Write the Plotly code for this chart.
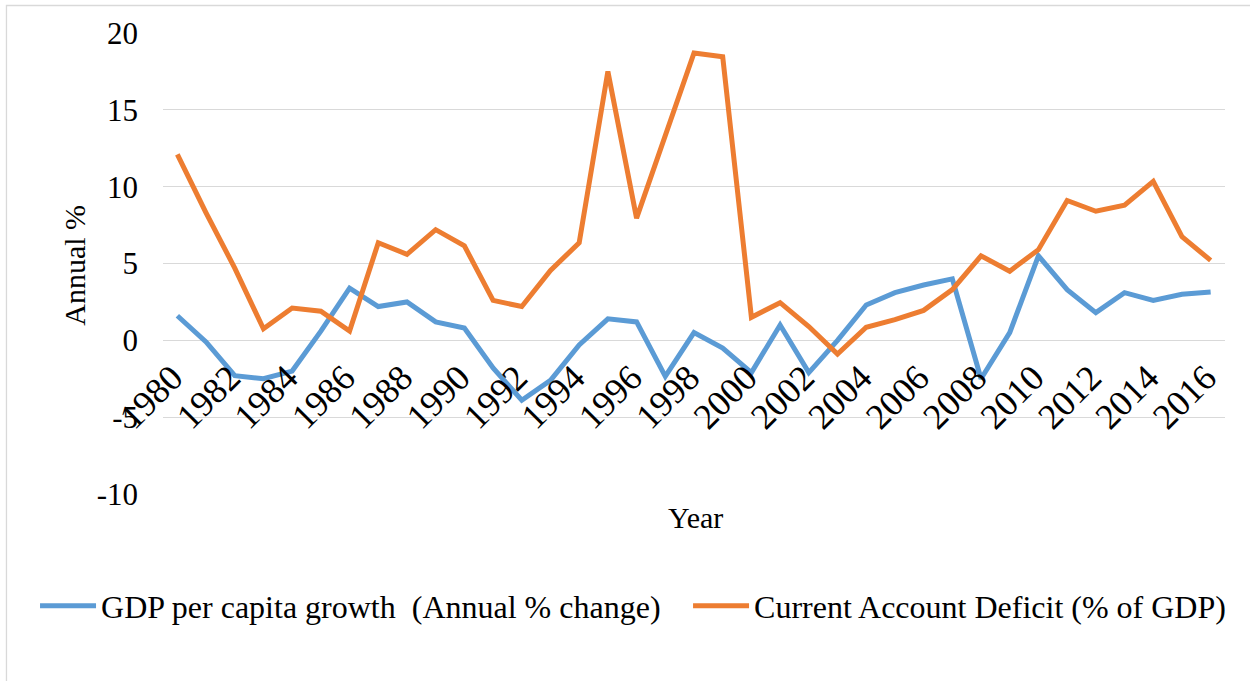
import plotly.graph_objects as go

years = list(range(1980, 2017))
gdp_growth = [1.6, -0.1, -2.3, -2.5, -2.0, 0.6, 3.4, 2.2, 2.5, 1.2, 0.8, -1.8, -3.9, -2.6,
              -0.3, 1.4, 1.2, -2.35, 0.5, -0.5, -2.1, 1.0, -2.1, 0.0, 2.3, 3.1, 3.6, 4.0,
              -2.5, 0.5, 5.5, 3.3, 1.8, 3.1, 2.6, 3.0, 3.15]
cad = [12.1, 8.3, 4.7, 0.75, 2.1, 1.9, 0.6, 6.35, 5.6, 7.2, 6.15, 2.6, 2.2, 4.55,
       6.35, 17.5, 7.95, 13.4, 18.7, 18.45, 1.5, 2.45, 0.9, -0.9, 0.85, 1.35, 1.95, 3.3,
       5.5, 4.5, 5.9, 9.1, 8.4, 8.8, 10.35, 6.75, 5.2]
y_ticks = [-10, -5, 0, 5, 10, 15, 20]
y_tick_text = ["-10", "-5", "0", "5", "10", "15", "20"]
x_ticks = list(range(1980, 2017, 2))

FONT = "Liberation Serif, Times New Roman, serif"

fig = go.Figure()
fig.add_trace(go.Scatter(x=years, y=gdp_growth, mode="lines",
                         name="GDP per capita growth \u00a0(Annual % change)",
                         line=dict(color="#5B9BD5", width=5), legend="legend"))
fig.add_trace(go.Scatter(x=years, y=cad, mode="lines",
                         name="Current Account Deficit (% of GDP)",
                         line=dict(color="#ED7D31", width=5), legend="legend2"))

legend_common = dict(orientation="h", yanchor="middle", y=-0.243, xanchor="left",
                     font=dict(size=32, family=FONT), bgcolor="rgba(0,0,0,0)", itemwidth=56)

fig.update_layout(
    width=1250, height=681,
    margin=dict(l=163, r=25, t=33, b=187),
    paper_bgcolor="white", plot_bgcolor="white",
    font=dict(family=FONT, size=31, color="black"),
    showlegend=True,
    legend=dict(x=-0.1205, **legend_common),
    legend2=dict(x=0.4944, **legend_common),
    xaxis=dict(range=[1979.5, 2016.5], tickvals=x_ticks, ticktext=[str(v) for v in x_ticks],
               tickangle=-45, showgrid=False, zeroline=False, showline=False,
               anchor="free", position=1/3, ticks="", ticklabelstandoff=8, ticklabelshift=-5,
               tickfont=dict(size=36, family=FONT)),
    yaxis=dict(range=[-10, 20], tickvals=y_ticks, ticktext=y_tick_text, showgrid=True,
               gridcolor="#D9D9D9", gridwidth=1.3, zeroline=False, showline=False, ticks="",
               ticklabelstandoff=24, tickfont=dict(size=31, family=FONT)),
    annotations=[
        dict(text="Year", x=0.501, y=-0.052, xref="paper", yref="paper", showarrow=False,
             xanchor="center", yanchor="middle", font=dict(size=30, family=FONT)),
        dict(text="Annual %", x=-0.083, y=0.497, xref="paper", yref="paper", showarrow=False,
             textangle=-90, xanchor="center", yanchor="middle", font=dict(size=30, family=FONT)),
    ],
    shapes=[dict(type="rect", xref="paper", yref="paper", x0=-0.1474, x1=1.03, y0=-0.42, y1=1.0597,
                 line=dict(color="#D9D9D9", width=1.3), fillcolor="rgba(0,0,0,0)", layer="below")],
)

fig.write_html("out.html")
